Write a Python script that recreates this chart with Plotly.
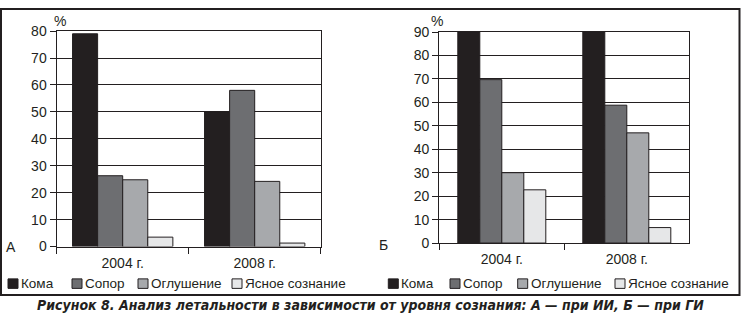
import plotly.graph_objects as go

# Figure size in pixels
W, H = 741, 323

# Categories and series
years = ["2004 г.", "2008 г."]
levels = ["Кома", "Сопор", "Оглушение", "Ясное сознание"]
level_colors = ["#231f20", "#6d6e71", "#a7a9ac", "#e6e7e8"]

# Panel А — ИИ, lethality (%) per consciousness level
a_koma = [79, 50]
a_sopor = [26.3, 58]
a_oglush = [24.8, 24.2]
a_yasnoe = [3.5, 1.3]

# Panel Б — ГИ, lethality (%) per consciousness level
b_koma = [90, 90]
b_sopor = [69.7, 58.8]
b_oglush = [30, 47]
b_yasnoe = [22.7, 6.6]

a_ticks = [0, 10, 20, 30, 40, 50, 60, 70, 80]
b_ticks = [0, 10, 20, 30, 40, 50, 60, 70, 80, 90]

TXT = "#231f20"
FONT = "Liberation Sans, Arial, sans-serif"


def px_x(p):
    return p / W


def px_y(p):
    return 1 - p / H


fig = go.Figure()

panels = [
    dict(series=[a_koma, a_sopor, a_oglush, a_yasnoe], xa="x", ya="y", width=0.19),
    dict(series=[b_koma, b_sopor, b_oglush, b_yasnoe], xa="x2", ya="y2", width=0.176),
]

for p in panels:
    w = p["width"]
    for i, (name, vals, col) in enumerate(zip(levels, p["series"], level_colors)):
        fig.add_trace(go.Bar(
            x=years, y=vals, name=name,
            marker=dict(color=col, line=dict(color="#231f20", width=1)),
            width=w, offset=-2 * w + i * w,
            xaxis=p["xa"], yaxis=p["ya"], showlegend=False,
            hoverinfo="x+y+name",
        ))

common_x = dict(
    type="category", range=[-0.5, 1.5], showgrid=False,
    showline=True, linecolor="#231f20", linewidth=1.4, mirror=True,
    ticks="outside", ticklen=6, tickcolor="#231f20", tickwidth=1.4,
    tickson="boundaries", ticklabelstandoff=3,
    tickfont=dict(family=FONT, size=14, color=TXT),
    fixedrange=True,
)
common_y = dict(
    showgrid=True, gridcolor="#231f20", gridwidth=1.4,
    showline=True, linecolor="#231f20", linewidth=1.4, mirror=True,
    ticks="outside", ticklen=6, tickcolor="#231f20", tickwidth=1.4,
    tickfont=dict(family=FONT, size=14, color=TXT), zeroline=False,
    fixedrange=True,
)

fig.update_layout(
    width=W, height=H,
    margin=dict(l=0, r=0, t=0, b=0),
    paper_bgcolor="white", plot_bgcolor="white",
    barmode="group",
    showlegend=False,
    xaxis=dict(common_x, domain=[px_x(56.7), px_x(320.7)], anchor="y"),
    yaxis=dict(common_y, domain=[px_y(251), px_y(24.3)], range=[0, 80],
               tickvals=a_ticks, anchor="x"),
    xaxis2=dict(common_x, domain=[px_x(439.3), px_x(689.3)], anchor="y2"),
    yaxis2=dict(common_y, domain=[px_y(247.3), px_y(25.3)], range=[0, 90],
                tickvals=b_ticks, anchor="x2"),
)

shapes = []
annotations = []

# Outer frame
shapes.append(dict(type="rect", xref="paper", yref="paper",
                   x0=px_x(1), x1=px_x(739.5), y0=px_y(302), y1=px_y(1),
                   line=dict(color="#231f20", width=2)))

# Legends drawn under each panel
legend_rows = [
    dict(sq=[8, 72, 138, 232]),
    dict(sq=[388.3, 450, 517.7, 615]),
]
for row in legend_rows:
    for name, col, sx in zip(levels, level_colors, row["sq"]):
        shapes.append(dict(type="rect", xref="paper", yref="paper",
                           x0=px_x(sx), x1=px_x(sx + 10),
                           y0=px_y(295), y1=px_y(285),
                           fillcolor=col, line=dict(color="#231f20", width=1)))
        annotations.append(dict(xref="paper", yref="paper",
                                x=px_x(sx + 11), y=px_y(290),
                                xanchor="left", yanchor="middle",
                                text=name, showarrow=False,
                                font=dict(family=FONT, size=13.5, color=TXT)))

# Unit labels and panel letters
for x, y, t in [(60, 14, "%"), (437, 14, "%"), (11, 251, "А"), (383, 249, "Б")]:
    annotations.append(dict(xref="paper", yref="paper", x=px_x(x), y=px_y(y),
                            xanchor="center", yanchor="middle", text=t,
                            showarrow=False,
                            font=dict(family=FONT, size=14, color=TXT)))

# Caption
annotations.append(dict(
    xref="paper", yref="paper", x=px_x(371), y=px_y(313),
    xanchor="center", yanchor="middle", showarrow=False,
    text="<b><i>Рисунок 8. Анализ летальности в зависимости от уровня сознания: "
         "А — при ИИ, Б — при ГИ</i></b>",
    font=dict(family="Liberation Sans Narrow, DejaVu Sans Condensed, Arial Narrow, sans-serif",
              size=14, color=TXT),
))

fig.update_layout(shapes=shapes, annotations=annotations)

fig.write_html("out.html")
